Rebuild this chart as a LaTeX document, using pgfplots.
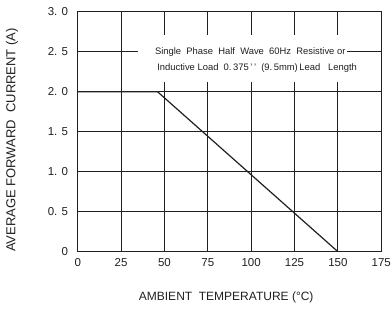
\documentclass[border=0pt]{standalone}
\usepackage{fontspec}
\setmainfont{Liberation Sans}
\usepackage{pgfplots}
\pgfplotsset{compat=1.18}
\definecolor{ink}{HTML}{231F20}
\begin{document}
\begin{tikzpicture}
\useasboundingbox (-77.7pt,-59.3pt) rectangle (314.3pt,251.7pt);
\begin{axis}[
  scale only axis,
  width=303.6pt, height=240pt,
  xmin=0, xmax=175, ymin=0, ymax=3,
  xtick={0,25,50,75,100,125,150,175},
  ytick={0,0.5,1,1.5,2,2.5,3},
  yticklabels={0,{0. 5},{1. 0},{1. 5},{2. 0},{2. 5},{3. 0}},
  xticklabel style={font=\fontsize{11.5}{11.5}\selectfont, text=ink, anchor=north, inner sep=0pt, yshift=-6.5pt},
  yticklabel style={font=\fontsize{11.5}{11.5}\selectfont, text=ink, anchor=east, inner sep=0pt, xshift=-9.5pt},
  /pgf/number format/assume math mode=true,
  grid=major,
  major grid style={ink, line width=0.9pt},
  axis line style={ink, line width=0.9pt},
  tick style={draw=none},
  clip=false,
]
\addplot[ink, line width=1.2pt] coordinates {(0,2) (46,2) (150,0)};
\fill[white] (axis cs:34.8,2.12) rectangle (axis cs:155.3,2.71);
\node[anchor=west, font=\fontsize{9.4}{9.4}\selectfont, text=ink, inner sep=0pt] at (axis cs:44.5,2.5) {Single\ \ Phase\ \ Half\ \ Wave\ \ 60Hz\ \ Resistive\ or};
\node[anchor=west, font=\fontsize{9.4}{9.4}\selectfont, text=ink, inner sep=0pt] at (axis cs:45.8,2.30) {Inductive Load\ \ 0.\,375\,'\,'\ \ (9.\,5mm)\,Lead\ \ \ Length};
\end{axis}
\node[font=\fontsize{12}{12}\selectfont, text=ink] at (148.5pt,-45.3pt) {AMBIENT\ \ TEMPERATURE (°C)};
\node[font=\fontsize{13}{13}\selectfont, text=ink, rotate=90] at (-65.7pt,111.7pt) {AVERAGE FORWARD\ \ CURRENT (A)};
\end{tikzpicture}
\end{document}
